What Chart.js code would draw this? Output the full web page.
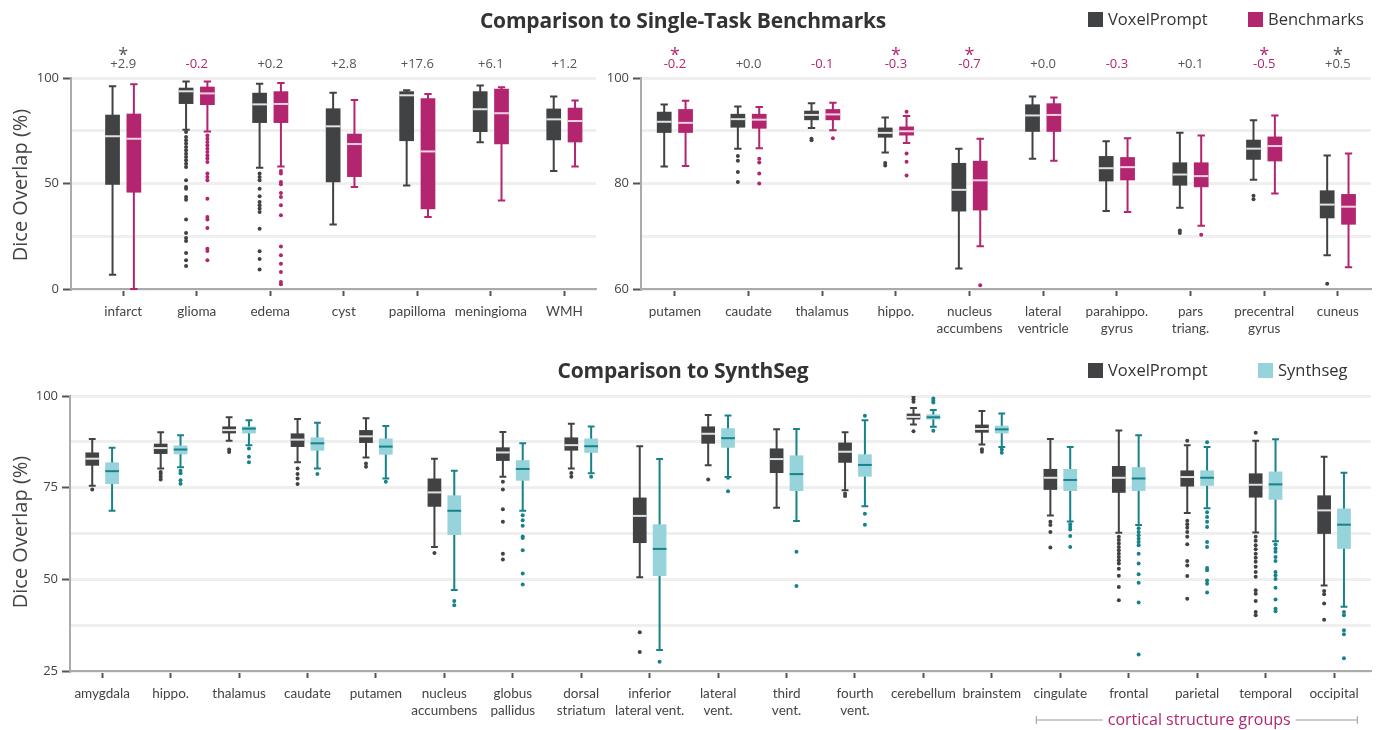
<!DOCTYPE html>
<html>
<head>
<meta charset="utf-8">
<script src="https://cdn.jsdelivr.net/npm/chart.js@4.4.1/dist/chart.umd.min.js"></script>
<style>
  body { margin: 0; background: #fff; font-family: "Open Sans", sans-serif; }
  #wrap { position: relative; width: 1379px; height: 730px; overflow: hidden; }
  canvas { position: absolute; }
  .t { position: absolute; white-space: nowrap; color: #333; }
  .title { font-weight: bold; font-size: 21px; line-height: 26px; transform: translateX(-50%); letter-spacing: -0.2px; }
  .leg { font-size: 16.5px; line-height: 20px; color: #333; }
  .sw { position: absolute; width: 15px; height: 15px; }
  .ytitle { font-size: 20px; line-height: 24px; color: #444; transform: translate(-50%, -50%) rotate(-90deg); }
</style>
</head>
<body>
<div id="wrap">
  <canvas id="tl" width="600" height="345" style="left:0;top:0"></canvas>
  <canvas id="tr" width="779" height="345" style="left:600px;top:0"></canvas>
  <canvas id="bt" width="1379" height="385" style="left:0;top:345px"></canvas>

  <div class="t title" style="left:683px;top:7px">Comparison to Single-Task Benchmarks</div>
  <div class="sw" style="left:1088px;top:12px;background:#414244"></div>
  <div class="t leg" style="left:1108px;top:9px">VoxelPrompt</div>
  <div class="sw" style="left:1248px;top:12px;background:#b3256f"></div>
  <div class="t leg" style="left:1268px;top:9px">Benchmarks</div>

  <div class="t title" style="left:683px;top:357px">Comparison to SynthSeg</div>
  <div class="sw" style="left:1088px;top:363px;background:#414244"></div>
  <div class="t leg" style="left:1108px;top:360px">VoxelPrompt</div>
  <div class="sw" style="left:1258px;top:363px;background:#97d3da"></div>
  <div class="t leg" style="left:1278px;top:360px">Synthseg</div>

  <div class="t ytitle" style="left:20px;top:185px">Dice Overlap (%)</div>
  <div class="t ytitle" style="left:20px;top:532px">Dice Overlap (%)</div>
</div>

<script>
// box stats are [lower whisker, q1, median, q3, upper whisker]

// top left: pathology
const tumorLabels = ['infarct', 'glioma', 'edema', 'cyst', 'papilloma', 'meningioma', 'WMH'];
const tumorVoxel = [[6.8,49.4,72.4,82.6,96.1],[75.5,87.7,93.7,95.4,98.4],[57.5,78.7,87.5,93,97.3],[30.6,50.6,77.1,85.6,93],[49.1,70.1,91.8,93.7,94.2],[69.5,74.4,85.2,93.7,96.5],[55.9,70.5,80.4,85.5,91.2]];
const tumorBench = [[0,45.7,71.2,83.1,97],[74.7,87.2,92.7,95.9,98.4],[58.1,78.7,87.7,93.7,97.6],[48.3,53.1,68.7,73.6,89.6],[34.1,37.8,65.2,90.4,92.4],[42,68.6,83.3,94.9,95.6],[58.1,69.5,79.6,85.9,89.3]];
const tumorVoxelOut = [[],[74.4,72,70.5,68.9,67.3,65.7,64.1,62.6,61,59.4,57.8,51.5,48.3,47.5,43.6,42.3,32.9,26.5,24.2,22.7,17.1,13.6,10.9],[54.7,53.1,51.5,47.5,43.9,41.2,39.7,38.1,36.5,28.6,17.9,14.2,9.2],[],[],[],[]];
const tumorBenchOut = [[],[72.8,71.2,69.7,68.1,66.5,64.9,63.3,61.8,60.2,54.7,53.1,51.5,42.8,34.1,32.9,28.9,19.1,18,13.6],[55.9,54.7,50.7,49.6,45.5,43.6,39.7,34.9,20.2,16,12,8.1,3.3,2.2],[],[],[],[]];
const tumorDelta = ['+2.9', '-0.2', '+0.2', '+2.8', '+17.6', '+6.1', '+1.2'];
const tumorStar = [true, false, false, false, false, false, false];

// top right: brain structures
const brainLabels = ['putamen', 'caudate', 'thalamus', 'hippo.', ['nucleus', 'accumbens'], ['lateral', 'ventricle'], ['parahippo.', 'gyrus'], ['pars', 'triang.'], ['precentral', 'gyrus'], 'cuneus'];
const brainVoxel = [[83.2,89.6,91.7,93.6,95.0],[86.6,90.6,92.2,93.2,94.6],[90.5,92.0,93.0,93.8,95.2],[85.9,88.7,89.6,90.6,92.5],[63.9,74.7,78.8,83.9,86.6],[84.7,89.8,92.9,95.0,96.5],[74.8,80.4,82.9,85.2,88.0],[75.4,79.6,81.7,84.0,89.6],[80.7,84.5,86.6,88.3,92.0],[66.4,73.4,76.0,78.7,85.3]];
const brainBench = [[83.3,89.6,91.5,94.1,95.7],[86.7,90.4,92.1,93.2,94.5],[90.1,92.0,93.1,94.1,95.3],[87.7,89.1,89.9,90.8,92.8],[68.1,74.9,80.6,84.3,88.5],[84.3,89.8,93.0,95.2,96.3],[74.6,80.6,83.1,85.0,88.6],[72.0,79.3,81.4,84.0,89.1],[78.1,84.2,87.1,88.9,92.9],[64.1,72.2,75.6,78.0,85.7]];
const brainVoxelOut = [[],[85.2,84.3,82.2,80.3],[88.5,88.2],[83.9,83.4],[],[],[],[71.1,70.6],[77.7,77.0],[61.0]];
const brainBenchOut = [[],[84.7,84.0,81.9,80.0],[88.6],[93.6,85.7,84.1,81.5],[60.7],[],[],[70.3],[],[]];
const brainDelta = ['-0.2', '+0.0', '-0.1', '-0.3', '-0.7', '+0.0', '-0.3', '+0.1', '-0.5', '+0.5'];
const brainStar = [true, false, false, true, true, false, false, false, true, true];

// bottom: synthseg comparison
const synthLabels = ['amygdala', 'hippo.', 'thalamus', 'caudate', 'putamen', ['nucleus', 'accumbens'], ['globus', 'pallidus'], ['dorsal', 'striatum'], ['inferior', 'lateral vent.'], ['lateral', 'vent.'], ['third', 'vent.'], ['fourth', 'vent.'], 'cerebellum', 'brainstem', 'cingulate', 'frontal', 'parietal', 'temporal', 'occipital'];
const synthVoxel = [[75.5,81.0,82.9,84.6,88.3],[80.2,84.2,85.8,87.0,90.1],[87.8,89.8,90.7,91.7,94.2],[81.9,86.1,88.1,89.8,93.7],[83.2,87.2,89.0,90.7,93.9],[58.8,69.8,73.7,77.5,82.9],[78.0,82.3,84.6,86.0,90.2],[80.2,85.1,86.6,88.7,92.4],[50.6,59.9,67.3,72.3,86.3],[81.1,87.0,89.7,91.7,94.8],[69.5,79.0,82.8,85.7,90.9],[74.3,81.8,84.8,87.3,90.1],[92.2,93.6,94.3,95.2,96.7],[86.8,90.0,91.0,92.2,95.9],[67.4,74.4,77.7,80.1,88.3],[62.7,73.6,77.7,80.9,90.6],[68.1,75.3,77.9,79.7,86.6],[62.8,72.3,75.8,78.9,87.8],[48.3,62.4,68.8,72.9,83.4]];
const synthSeg = [[68.7,76.0,79.5,81.9,85.9],[80.6,84.1,85.4,86.5,89.3],[86.6,89.8,91.1,91.7,93.4],[80.2,85.1,87.1,88.7,92.7],[77.5,84.0,86.2,88.4,91.8],[47.1,62.1,68.7,72.9,79.6],[68.7,76.9,80.1,82.5,87.1],[78.9,84.5,86.3,88.4,91.7],[30.7,50.9,58.3,65.0,82.8],[77.9,85.9,88.5,91.2,94.7],[65.9,74.1,78.7,83.8,91.0],[69.9,78.0,81.2,84.1,93.4],[91.6,93.6,94.2,95.0,96.2],[86.1,89.8,90.9,91.9,95.2],[65.8,74.1,77.1,80.1,86.1],[64.8,74.1,77.5,80.6,89.3],[69.4,75.5,77.7,79.7,86.1],[60.4,71.7,75.9,79.4,88.2],[42.5,58.3,64.9,69.3,79.1]];
const synthVoxelOut = [[74.5],[79.3,78.7,78.0,77.2],[85.4,84.7],[80.2,78.7,77.5,76.0],[81.6,80.7],[57.2],[76.6,74.5,69.1,65.7,57.0,55.4],[79.0,78.0],[35.6,30.2],[77.2],[],[73.4,72.7],[99.8,99.1,98.4,90.4],[85.5,84.8],[65.7,64.8,62.9,58.7],[61.6,60.7,59.8,58.8,57.9,57.0,56.1,55.2,54.3,52.9,51.0,47.9,44.3],[87.8,66.0,65.0,64.1,62.9,61.6,59.6,55.0,53.8,50.9,44.7],[90.0,61.6,60.5,59.3,58.2,57.0,55.9,54.8,53.4,52.0,50.7,47.0,46.1,44.1,41.1,40.2],[46.8,45.9,43.4,39.0]];
const synthSegOut = [[],[79.6,78.9,77.0,76.1],[85.7,83.4,81.9],[78.7],[76.6],[44.1,42.9],[67.5,66.1,64.6,61.7,61.3,57.9,51.6,48.6],[78.0],[27.5],[77.7,74.0],[57.5,48.2],[94.6,67.9,64.9],[99.3,98.7,98.2,90.5],[85.4,84.5],[65.0,64.3,63.6,61.8,58.8],[63.9,62.9,62.0,61.1,60.2,59.3,57.0,54.3,51.4,49.1,43.7,29.5],[87.4,68.3,67.0,65.7,64.3,60.2,58.8,53.1,52.5,49.7,48.8,46.4],[59.5,58.4,57.5,56.1,55.0,52.0,51.1,50.1,47.7,44.5,42.0,41.3],[41.1,40.2,36.1,35.0,28.5]];

const DARK = '#414244';
const MAGENTA = '#b3256f';
const TEAL_FILL = '#97d3da';
const TEAL = '#16838b';
const OFF = 0.145;
const FONT = '"Open Sans"';

function boxPlugin(series) {
  return {
    id: 'boxes',
    beforeDatasetsDraw(chart) {
      const {ctx, scales: {x, y}} = chart;
      const unit = x.getPixelForValue(1) - x.getPixelForValue(0);
      const half = unit * 0.1;
      const cap = unit * 0.05;
      ctx.save();
      ctx.lineWidth = 2;
      series.forEach(s => {
        s.stats.forEach((st, i) => {
          const cx = x.getPixelForValue(i + s.offset);
          const [lo, q1, md, q3, hi] = st.map(v => y.getPixelForValue(v));
          ctx.strokeStyle = s.line;
          ctx.beginPath();
          ctx.moveTo(cx, lo); ctx.lineTo(cx, hi);
          ctx.moveTo(cx - cap, lo); ctx.lineTo(cx + cap, lo);
          ctx.moveTo(cx - cap, hi); ctx.lineTo(cx + cap, hi);
          ctx.stroke();
          ctx.fillStyle = s.fill;
          ctx.fillRect(cx - half, q3, half * 2, q1 - q3);
          ctx.strokeStyle = s.median;
          ctx.beginPath();
          ctx.moveTo(cx - half, md); ctx.lineTo(cx + half, md);
          ctx.stroke();
        });
      });
      ctx.restore();
    }
  };
}

function deltaPlugin(deltas, stars) {
  return {
    id: 'deltas',
    afterDraw(chart) {
      const {ctx, chartArea, scales: {x}} = chart;
      ctx.save();
      ctx.textAlign = 'center';
      ctx.textBaseline = 'middle';
      deltas.forEach((d, i) => {
        const cx = x.getPixelForValue(i);
        ctx.fillStyle = d.startsWith('-') ? MAGENTA : '#555';
        ctx.font = '13px ' + FONT;
        ctx.fillText(d, cx, chartArea.top - 14);
        if (stars[i]) {
          ctx.font = '18px ' + FONT;
          ctx.fillText('*', cx, chartArea.top - 22);
        }
      });
      ctx.restore();
    }
  };
}

const groupPlugin = {
  id: 'group',
  afterDraw(chart) {
    const {ctx, scales: {x}} = chart;
    const y0 = 375;
    const a = x.getPixelForValue(13.65), b = x.getPixelForValue(18.34);
    const ta = x.getPixelForValue(14.62), tb = x.getPixelForValue(17.44);
    ctx.save();
    ctx.strokeStyle = '#999';
    ctx.lineWidth = 1;
    ctx.beginPath();
    ctx.moveTo(a, y0); ctx.lineTo(ta, y0);
    ctx.moveTo(tb, y0); ctx.lineTo(b, y0);
    ctx.moveTo(a, y0 - 4); ctx.lineTo(a, y0 + 4);
    ctx.moveTo(b, y0 - 4); ctx.lineTo(b, y0 + 4);
    ctx.stroke();
    ctx.fillStyle = MAGENTA;
    ctx.font = '16px ' + FONT;
    ctx.textAlign = 'center';
    ctx.textBaseline = 'middle';
    ctx.fillText('cortical structure groups', (ta + tb) / 2, y0);
    ctx.restore();
  }
};

function outliers(list, off) {
  const pts = [];
  list.forEach((vals, i) => vals.forEach(v => pts.push({x: i + off, y: v})));
  return pts;
}

function makeChart(id, o) {
  const labeled = o.labeled;
  return new Chart(document.getElementById(id), {
    type: 'scatter',
    data: {
      datasets: [
        {data: outliers(o.outA, -OFF), backgroundColor: DARK, pointRadius: 2, borderWidth: 0},
        {data: outliers(o.outB, OFF), backgroundColor: o.colB, pointRadius: 2, borderWidth: 0}
      ]
    },
    options: {
      responsive: false,
      animation: false,
      layout: {padding: o.padding},
      plugins: {legend: {display: false}, tooltip: {enabled: false}},
      scales: {
        x: {
          type: 'linear',
          min: o.xmin, max: o.xmax,
          afterBuildTicks: s => { s.ticks = o.labels.map((_, i) => ({value: i})); },
          afterFit: s => { s.height = o.xh; },
          ticks: {
            autoSkip: false, maxRotation: 0, padding: 7,
            color: '#444', font: {family: 'Lato', size: 13.5, lineHeight: 1.28},
            callback: v => o.labels[v]
          },
          grid: {drawOnChartArea: false, tickLength: 7, tickColor: '#555', tickWidth: 2},
          border: {color: '#aaa', width: 2}
        },
        y: {
          min: o.ymin, max: o.ymax,
          afterBuildTicks: s => { s.ticks = o.yticks.map(v => ({value: v})); },
          afterFit: s => { s.width = o.yw; },
          ticks: {
            padding: 4, color: '#444', font: {family: FONT, size: 13},
            callback: v => labeled.includes(v) ? v : ''
          },
          grid: {
            color: '#efefef', lineWidth: 3, tickLength: 8, tickWidth: 2,
            tickColor: c => (c.tick && labeled.includes(c.tick.value)) ? '#555' : 'rgba(0,0,0,0)'
          },
          border: {color: '#aaa', width: 2}
        }
      }
    },
    plugins: o.plugins
  });
}

makeChart('tl', {
  labels: tumorLabels, outA: tumorVoxelOut, outB: tumorBenchOut, colB: MAGENTA,
  xmin: -0.71, xmax: 6.43, ymin: 0, ymax: 100,
  yticks: [0, 25, 50, 75, 100], labeled: [0, 50, 100],
  yw: 71, xh: 56, padding: {top: 78, right: 3, left: 0, bottom: 0},
  plugins: [
    boxPlugin([
      {stats: tumorVoxel, offset: -OFF, fill: DARK, line: DARK, median: '#e2e2e2'},
      {stats: tumorBench, offset: OFF, fill: MAGENTA, line: MAGENTA, median: '#f3d2e2'}
    ]),
    deltaPlugin(tumorDelta, tumorStar)
  ]
});

makeChart('tr', {
  labels: brainLabels, outA: brainVoxelOut, outB: brainBenchOut, colB: MAGENTA,
  xmin: -0.46, xmax: 9.45, ymin: 60, ymax: 100,
  yticks: [60, 70, 80, 90, 100], labeled: [60, 80, 100],
  yw: 41, xh: 56, padding: {top: 78, right: 8, left: 0, bottom: 0},
  plugins: [
    boxPlugin([
      {stats: brainVoxel, offset: -OFF, fill: DARK, line: DARK, median: '#e2e2e2'},
      {stats: brainBench, offset: OFF, fill: MAGENTA, line: MAGENTA, median: '#f3d2e2'}
    ]),
    deltaPlugin(brainDelta, brainStar)
  ]
});

makeChart('bt', {
  labels: synthLabels, outA: synthVoxelOut, outB: synthSegOut, colB: TEAL,
  xmin: -0.47, xmax: 18.54, ymin: 25, ymax: 100,
  yticks: [25, 37.5, 50, 62.5, 75, 87.5, 100], labeled: [25, 50, 75, 100],
  yw: 70, xh: 59, padding: {top: 51, right: 8, left: 0, bottom: 0},
  plugins: [
    boxPlugin([
      {stats: synthVoxel, offset: -OFF, fill: DARK, line: DARK, median: '#e2e2e2'},
      {stats: synthSeg, offset: OFF, fill: TEAL_FILL, line: TEAL, median: TEAL}
    ]),
    groupPlugin
  ]
});
</script>
</body>
</html>
